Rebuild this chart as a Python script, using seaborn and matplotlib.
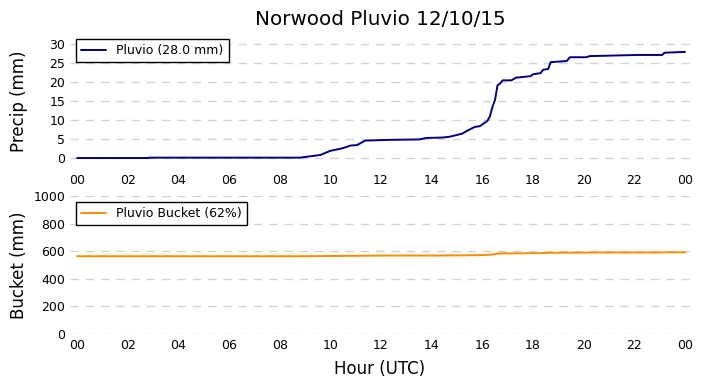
import numpy as np
import pandas as pd
import seaborn as sns
from matplotlib import pyplot as plt

# hours since 00 UTC, cumulative pluvio precip (mm), bucket level (mm)
hours = [0.0, 2.8, 2.85, 8.8, 9.6, 10.0, 10.5, 10.8, 11.05, 11.37, 12.35, 13.5, 13.8,
         14.4, 14.7, 15.0, 15.2, 15.4, 15.7, 15.9, 16.2, 16.3, 16.4, 16.5, 16.6, 16.7,
         16.8, 17.15, 17.33, 17.9, 18.0, 18.3, 18.4, 18.6, 18.7, 19.33, 19.46, 20.1,
         20.25, 22.15, 23.1, 23.2, 24.0]
precip = [0.0, 0.0, 0.1, 0.1, 0.8, 1.9, 2.6, 3.3, 3.4, 4.6, 4.8, 4.9, 5.3,
          5.4, 5.6, 6.1, 6.4, 7.2, 8.2, 8.4, 9.8, 11.0, 13.5, 15.3, 19.2, 19.6,
          20.5, 20.5, 21.2, 21.6, 22.1, 22.4, 23.3, 23.5, 25.3, 25.6, 26.6, 26.6,
          26.9, 27.2, 27.2, 27.8, 28.0]
bucket = [564, 564, 564, 564, 565, 566, 566, 567, 567, 568, 569, 569, 569,
          569, 570, 570, 570, 571, 572, 572, 574, 575, 577, 579, 583, 584,
          585, 585, 585, 586, 586, 586, 587, 588, 589, 590, 590, 590,
          591, 591, 591, 592, 592]

df = pd.DataFrame({'hour': hours, 'precip': precip, 'bucket': bucket})

sns.set_theme(style='white')
plt.rcParams['font.family'] = ['DejaVu Sans']
plt.rcParams['text.color'] = 'black'
plt.rcParams['axes.labelcolor'] = 'black'
plt.rcParams['xtick.color'] = 'black'
plt.rcParams['ytick.color'] = 'black'

fig = plt.figure(figsize=(7.03, 3.88), dpi=100)
ax1 = fig.add_axes([0.0996, 0.5644, 0.8819, 0.3506])
ax2 = fig.add_axes([0.0996, 0.139, 0.8819, 0.3557])

sns.lineplot(data=df, x='hour', y='precip', ax=ax1, color='navy', lw=1.4,
             label='Pluvio (28.0 mm)')
sns.lineplot(data=df, x='hour', y='bucket', ax=ax2, color='darkorange', lw=1.4,
             label='Pluvio Bucket (62%)')

ticks = np.arange(0, 25, 2)
for ax in (ax1, ax2):
    ax.set_xlim(-0.28, 24.2)
    ax.set_xticks(ticks)
    ax.set_xticklabels(['%02d' % (t % 24) for t in ticks], fontsize=9)
    ax.tick_params(axis='y', labelsize=9)
    ax.tick_params(length=0)
    for s in ax.spines.values():
        s.set_visible(False)
    ax.yaxis.grid(True, linestyle=(0, (6, 5)), color='lightgray', lw=1)
    leg = ax.legend(loc='upper left', fancybox=False, fontsize=9, framealpha=1)
    leg.get_frame().set_edgecolor('black')

ax1.set_ylim(-2.9, 33)
ax1.set_yticks(range(0, 31, 5))
ax2.set_ylim(0, 1000)
ax2.set_yticks(range(0, 1001, 200))

ax1.set_xlabel('')
ax1.set_ylabel('Precip (mm)', fontsize=12)
ax2.set_ylabel('Bucket (mm)', fontsize=12)
ax2.set_xlabel('Hour (UTC)', fontsize=12, labelpad=6)
ax1.yaxis.set_label_coords(-0.068, 0.5)
ax2.yaxis.set_label_coords(-0.068, 0.5)
ax1.set_title('Norwood Pluvio 12/10/15', fontsize=14.3)

plt.savefig('out.png', dpi=100)
plt.close()
